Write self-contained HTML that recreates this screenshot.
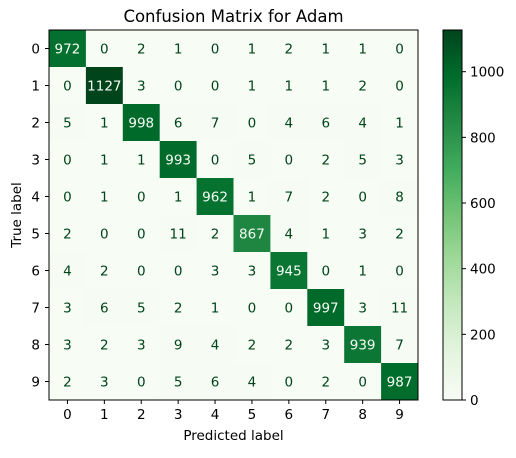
<!DOCTYPE html>
<html><head><meta charset="utf-8"><style>
body{margin:0;background:#fff;}
svg text{font-family:"DejaVu Sans","Liberation Sans",sans-serif;}
</style></head><body>
<svg id="chart" width="516" height="453" xmlns="http://www.w3.org/2000/svg">
<defs>
<linearGradient id="cbgrad" x1="0" y1="1" x2="0" y2="0">
<stop offset="0" stop-color="#f7fcf5"/><stop offset="0.125" stop-color="#e5f5e0"/><stop offset="0.25" stop-color="#c7e9c0"/><stop offset="0.375" stop-color="#a1d99b"/><stop offset="0.5" stop-color="#74c476"/><stop offset="0.625" stop-color="#41ab5d"/><stop offset="0.75" stop-color="#238b45"/><stop offset="0.875" stop-color="#006d2c"/><stop offset="1" stop-color="#00441b"/>
</linearGradient>
</defs>
<text x="233.5" y="22" text-anchor="middle" font-size="16.5">Confusion Matrix for Adam</text>
<g id="cells"></g>
<rect x="49" y="30" width="369" height="370" fill="none" stroke="#000" stroke-width="1"/>
<g id="ticks"></g>
<text x="233.5" y="440" text-anchor="middle" font-size="13.5">Predicted label</text>
<text transform="translate(21,215) rotate(-90)" text-anchor="middle" font-size="13.5">True label</text>
<rect x="443" y="30" width="19" height="370" fill="url(#cbgrad)" stroke="#000" stroke-width="1"/>
<g id="cbticks"></g>
</svg>
<script>
const labels=["0","1","2","3","4","5","6","7","8","9"];
const matrix=[
[972,0,2,1,0,1,2,1,1,0],
[0,1127,3,0,0,1,1,1,2,0],
[5,1,998,6,7,0,4,6,4,1],
[0,1,1,993,0,5,0,2,5,3],
[0,1,0,1,962,1,7,2,0,8],
[2,0,0,11,2,867,4,1,3,2],
[4,2,0,0,3,3,945,0,1,0],
[3,6,5,2,1,0,0,997,3,11],
[3,2,3,9,4,2,2,3,939,7],
[2,3,0,5,6,4,0,2,0,987]];
const cbTicks=[0,200,400,600,800,1000];
const NS="http://www.w3.org/2000/svg";
const X0=49,Y0=30,CW=369/10,CH=370/10;
let vmax=0,vmin=Infinity;matrix.forEach(r=>r.forEach(v=>{vmax=Math.max(vmax,v);vmin=Math.min(vmin,v);}));
const stops=["#f7fcf5","#e5f5e0","#c7e9c0","#a1d99b","#74c476","#41ab5d","#238b45","#006d2c","#00441b"].map(h=>[1,3,5].map(i=>parseInt(h.substr(i,2),16)));
function cmap(t){t=Math.max(0,Math.min(1,t));const p=t*8,i=Math.min(7,Math.floor(p)),f=p-i;const c=stops[i].map((a,k)=>Math.round(a+(stops[i+1][k]-a)*f));return `rgb(${c})`;}
const xS=j=>X0+j*CW, yS=i=>Y0+i*CH;
const cbY=v=>400-(v-vmin)/(vmax-vmin)*370;
function mk(tag,attrs,parent){const e=document.createElementNS(NS,tag);for(const k in attrs)e.setAttribute(k,attrs[k]);parent.appendChild(e);return e;}
const cells=document.getElementById('cells');
const thr=(vmax+vmin)/2;
matrix.forEach((row,i)=>row.forEach((v,j)=>{
 const r=mk('rect',{x:xS(j),y:yS(i),width:CW+0.5,height:CH+0.5,fill:cmap((v-vmin)/(vmax-vmin))},cells);
 
 
 const t=mk('text',{x:xS(j)+CW/2,y:yS(i)+CH/2+5,'text-anchor':'middle','font-size':'13.5',fill:v>thr?'#f7fcf5':'#00441b'},cells);
 t.textContent=v;
 
 
}));
const tk=document.getElementById('ticks');
labels.forEach((l,k)=>{
 const cx=xS(k)+CW/2, cy=yS(k)+CH/2;
 mk('line',{x1:cx,x2:cx,y1:400,y2:404,stroke:'#000'},tk);
 const a=mk('text',{x:cx,y:419,'text-anchor':'middle','font-size':'13.5'},tk);a.textContent=l;
 
 
 mk('line',{x1:45,x2:49,y1:cy,y2:cy,stroke:'#000'},tk);
 const b=mk('text',{x:40,y:cy+5,'text-anchor':'end','font-size':'13.5'},tk);b.textContent=l;
 
 
});
const cb=document.getElementById('cbticks');
cbTicks.forEach(v=>{
 const y=cbY(v);
 mk('line',{x1:462,x2:466,y1:y,y2:y,stroke:'#000'},cb);
 const t=mk('text',{x:470,y:y+5,'font-size':'13.5'},cb);t.textContent=v;
 
 
});
</script>
</body></html>
